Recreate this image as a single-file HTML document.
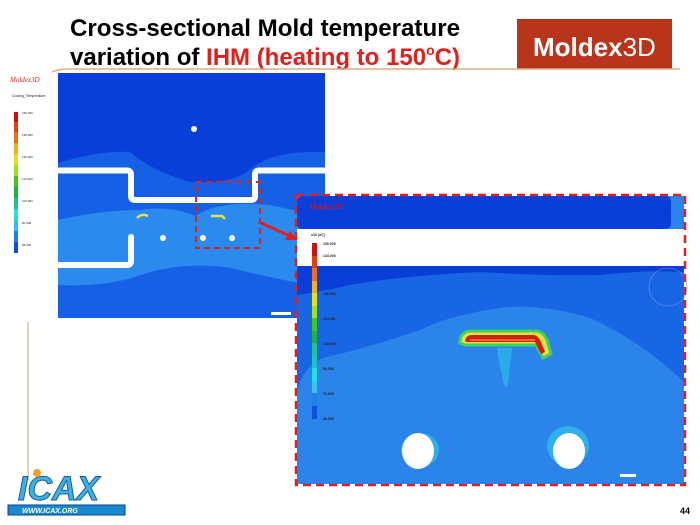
<!DOCTYPE html>
<html><head><meta charset="utf-8"><style>
html,body{margin:0;padding:0;background:#fff;width:700px;height:525px;overflow:hidden}
svg{display:block}
</style></head><body>
<svg width="700" height="525" viewBox="0 0 700 525" xmlns="http://www.w3.org/2000/svg" font-family="Liberation Sans, sans-serif">
<!-- title -->
<text x="70" y="36" font-size="24" font-weight="bold" fill="#000" textLength="390" lengthAdjust="spacingAndGlyphs">Cross-sectional Mold temperature</text>
<text x="70" y="65" font-size="24" font-weight="bold" fill="#000">variation of <tspan fill="#e0201c">IHM (heating to 150</tspan><tspan fill="#e0201c" font-size="14" dy="-10">o</tspan><tspan fill="#e0201c" dy="10">C)</tspan></text>
<rect x="517" y="19" width="155" height="50" fill="#b8341a"/>
<text x="533" y="56" font-size="26" font-weight="bold" fill="#fff">Moldex<tspan font-weight="normal">3D</tspan></text>
<path d="M52 72 Q58 69 70 69 L680 69" stroke="#d8b080" stroke-width="1.5" fill="none"/>
<line x1="28" y1="322" x2="28" y2="480" stroke="#e0a060" stroke-width="1"/>

<!-- left image -->
<rect x="58" y="73" width="267" height="245" fill="#0a3ed8"/>
<path d="M58 163 Q100 150 130 152 Q150 170 190 182 Q230 185 250 170 Q270 150 325 152 L325 240 L58 240Z" fill="#1660e6"/>
<path d="M58 220 Q100 210 140 210 Q170 205 195 216 Q220 200 270 205 Q300 212 325 215 L325 288 Q280 280 230 268 Q190 262 150 272 Q110 288 58 285Z" fill="#2b8aee"/>
<path d="M58 285 Q110 288 150 272 Q190 262 230 268 Q280 280 325 288 L325 318 L58 318Z" fill="#1660e6"/>
<!-- pipes -->
<path d="M58 170.5 L127 170.5 Q131 170.5 131 175 L131 196 Q131 200 135 200 L251 200 Q255 200 255 196 L255 175 Q255 170.5 259 170.5 L325 170.5" stroke="#fff" stroke-width="6" fill="none"/>
<path d="M131 237 L131 261 Q131 265 127 265 L58 265" stroke="#fff" stroke-width="6" fill="none" stroke-linecap="round"/>
<circle cx="194" cy="129" r="3" fill="#fff"/>
<circle cx="163" cy="238" r="3" fill="#fff"/>
<circle cx="203" cy="238" r="3" fill="#fff"/>
<circle cx="232" cy="238" r="3" fill="#fff"/>
<path d="M137 218 Q142 213 148 216" stroke="#e8e040" stroke-width="2.5" fill="none"/>
<path d="M211 216 L222 216 L225 219" stroke="#e8e040" stroke-width="2.5" fill="none"/>
<rect x="271" y="312" width="20" height="3" fill="#fff"/>
<!-- left legend -->
<text x="10" y="82" font-size="7" font-style="italic" fill="#d02020" font-family="Liberation Serif, serif">Moldex3D</text>
<text x="12" y="97" font-size="3.5" fill="#222">Cooling_Temperature</text>
<g>
<rect x="14" y="112" width="4" height="10" fill="#d01010"/>
<rect x="14" y="122" width="4" height="10" fill="#e04010"/>
<rect x="14" y="132" width="4" height="11" fill="#e87020"/>
<rect x="14" y="143" width="4" height="11" fill="#f0b020"/>
<rect x="14" y="154" width="4" height="11" fill="#e0e020"/>
<rect x="14" y="165" width="4" height="11" fill="#a0e020"/>
<rect x="14" y="176" width="4" height="11" fill="#40c820"/>
<rect x="14" y="187" width="4" height="11" fill="#20b040"/>
<rect x="14" y="198" width="4" height="11" fill="#20c090"/>
<rect x="14" y="209" width="4" height="11" fill="#20e0e0"/>
<rect x="14" y="220" width="4" height="11" fill="#30c0f0"/>
<rect x="14" y="231" width="4" height="11" fill="#2080e8"/>
<rect x="14" y="242" width="4" height="11" fill="#1050e0"/>
</g>
<g font-size="3" fill="#222">
<text x="22" y="114">150.000</text><text x="22" y="136">138.000</text><text x="22" y="158">126.000</text><text x="22" y="180">114.000</text><text x="22" y="202">102.000</text><text x="22" y="224">90.000</text><text x="22" y="246">66.000</text>
</g>

<!-- right image -->
<rect x="297" y="196" width="387" height="288" fill="#2a84ea"/>
<rect x="297" y="196" width="374" height="33" rx="5" fill="#0a3ed8"/>
<rect x="297" y="229" width="387" height="37" fill="#fff"/>
<!-- medium blue -->
<path d="M297 266 L684 266 L684 382 Q640 340 590 318 Q540 303 500 308 Q450 315 420 330 Q360 350 330 356 Q305 362 297 390Z" fill="#1866e4"/>
<!-- dark top band -->
<path d="M297 266 L684 266 L684 272 Q640 270 600 275 Q540 276 480 272 Q400 276 350 285 Q320 292 297 295Z" fill="#0a3ed8"/>
<path d="M497 348 L512 348 L508 385 L505 388 Q500 370 497 348Z" fill="#2aaae8"/>
<path d="M460 343 Q460 332 470 331 L535 331 Q543 331 547 340 L551 354 L543 358 L536 345 L465 345 Z" fill="#e8e040" stroke="#40d060" stroke-width="3"/>
<path d="M465 341 Q466 335 472 335 L533 335 Q538 335 541 342 L545 352 L541 354 L535 342 L467 342 Z" fill="#d02010"/>
<path d="M470 340 L535 340" stroke="#e87020" stroke-width="2"/>
<ellipse cx="420" cy="450" rx="19" ry="17" fill="#30b0ea"/>
<ellipse cx="568" cy="446" rx="21" ry="20" fill="#30b0ea"/>
<ellipse cx="418" cy="451" rx="16" ry="18" fill="#fff"/>
<ellipse cx="569" cy="451" rx="16" ry="18" fill="#fff"/>
<circle cx="668" cy="287" r="19" fill="none" stroke="#8090e0" stroke-width="0.6"/>
<g>
<rect x="312" y="243" width="5" height="13" fill="#d01010"/>
<rect x="312" y="256" width="5" height="12" fill="#e04010"/>
<rect x="312" y="268" width="5" height="13" fill="#e87020"/>
<rect x="312" y="281" width="5" height="12" fill="#f0b020"/>
<rect x="312" y="293" width="5" height="13" fill="#e0e020"/>
<rect x="312" y="306" width="5" height="12" fill="#a0e020"/>
<rect x="312" y="318" width="5" height="13" fill="#40c820"/>
<rect x="312" y="331" width="5" height="12" fill="#20b040"/>
<rect x="312" y="343" width="5" height="13" fill="#20c090"/>
<rect x="312" y="356" width="5" height="12" fill="#20c0c0"/>
<rect x="312" y="368" width="5" height="13" fill="#20e0e0"/>
<rect x="312" y="381" width="5" height="12" fill="#40c0f0"/>
<rect x="312" y="393" width="5" height="13" fill="#2080e8"/>
<rect x="312" y="406" width="5" height="13" fill="#1050e0"/>
</g>
<text x="309" y="209" font-size="8" font-style="italic" fill="#d02020" font-family="Liberation Serif, serif">Moldex3D</text>
<g font-size="3.5" fill="#222" font-weight="bold">
<text x="311" y="236">x10 (oC)</text>
<text x="323" y="245">150.000</text><text x="323" y="257">144.000</text><text x="323" y="295">126.000</text><text x="323" y="320">114.000</text><text x="323" y="345">102.000</text><text x="323" y="370">84.000</text><text x="323" y="395">72.000</text><text x="323" y="420">60.000</text>
</g>
<rect x="620" y="474" width="16" height="3" fill="#fff"/>
<!-- dashed boxes -->
<rect x="296" y="195" width="389" height="290" fill="none" stroke="#dd2020" stroke-width="2.5" stroke-dasharray="8,5"/>
<rect x="196" y="182" width="64" height="66" fill="none" stroke="#dd2020" stroke-width="2" stroke-dasharray="6,4"/>
<line x1="259" y1="222" x2="290" y2="236" stroke="#dd2020" stroke-width="3"/>
<polygon points="297,240 285,240 290,231" fill="#dd2020"/>

<!-- ICAX logo -->
<text x="18" y="500" font-size="34" font-style="italic" font-weight="bold" fill="#40b0e0" stroke="#1060a0" stroke-width="1">ICAX</text>
<circle cx="37" cy="473" r="4" fill="#f0a030"/>
<rect x="8" y="505" width="117" height="10" fill="#1a8ad0" stroke="#0a4080" stroke-width="1"/>
<text x="22" y="513" font-size="7" font-weight="bold" font-style="italic" fill="#fff">WWW.ICAX.ORG</text>
<text x="680" y="514" font-size="9" font-weight="bold" fill="#000">44</text>
</svg>
</body></html>
